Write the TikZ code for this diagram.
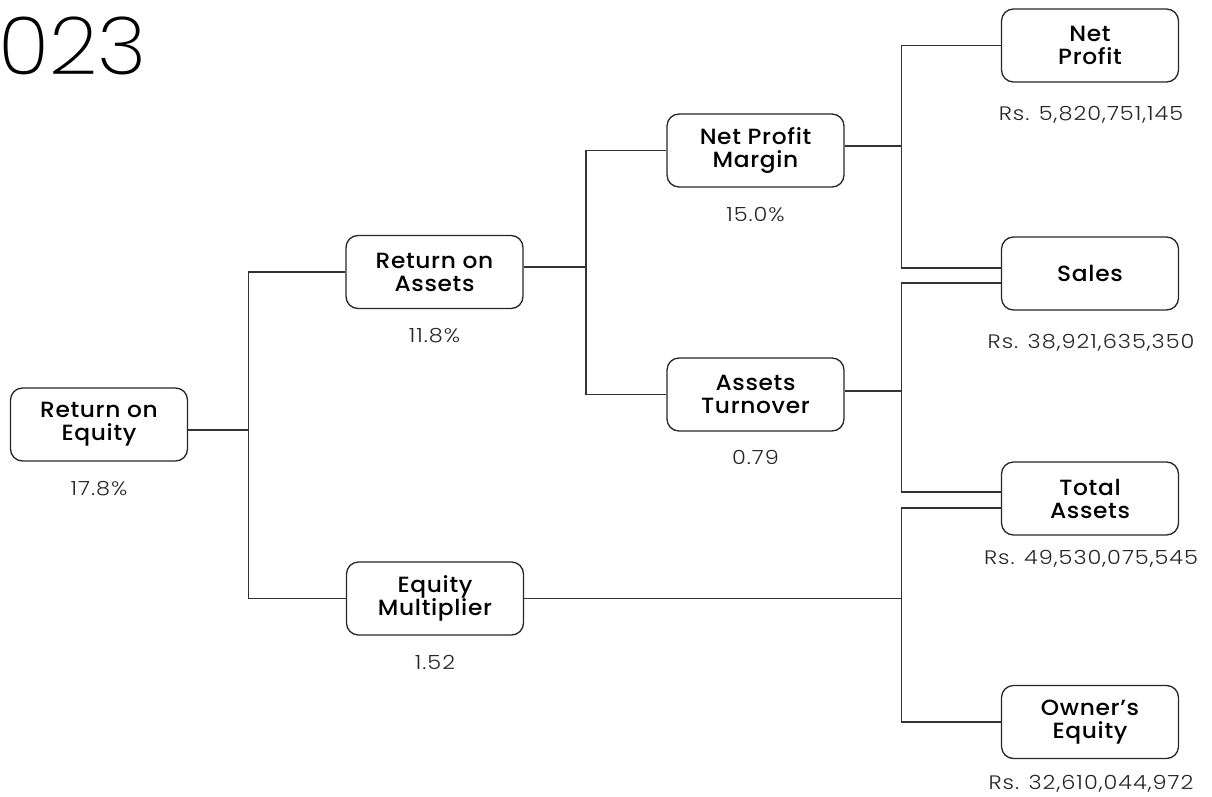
\documentclass[tikz,border=0pt]{standalone}
\usepackage{fontspec}
\setmainfont{Poppins}
\newfontfamily\boxfont[FakeStretch=1.06,LetterSpace=3]{Poppins Medium}
\newfontfamily\valfont[FakeStretch=1.15,LetterSpace=5]{Poppins Light}
\newfontfamily\yearfont[FakeStretch=1.06]{Poppins ExtraLight}
\begin{document}
\begin{tikzpicture}[x=1pt,y=-1pt,
  fbox/.style={draw=black!85, line width=1.3pt, rounded corners=12pt,
    minimum width=177pt, minimum height=73pt, inner sep=0pt, align=center,
    font=\boxfont\fontsize{22}{23}\selectfont, text=black},
  val/.style={anchor=base, inner sep=0pt, font=\valfont\fontsize{19.5}{20}\selectfont, text=black!85},
  conn/.style={draw=black!80, line width=1.3pt}]
\useasboundingbox (0,0) rectangle (1212,797);
\node[anchor=base west, inner sep=0pt, font=\yearfont\fontsize{80}{80}\selectfont] (year) at (-2,75) {023};
% boxes
\node[fbox] (roe) at (99,424.5) {Return on\\Equity};
\node[fbox] (roa) at (434.5,272) {Return on\\Assets};
\node[fbox] (em) at (435,598.5) {Equity\\Multiplier};
\node[fbox] (npm) at (755.5,150.5) {Net Profit\\Margin};
\node[fbox] (at) at (755.5,394.5) {Assets\\Turnover};
\node[fbox] (np) at (1090,45.5) {Net\\Profit};
\node[fbox] (sales) at (1090,273.5) {Sales};
\node[fbox] (ta) at (1090,498.5) {Total\\Assets};
\node[fbox] (oe) at (1090,722) {Owner’s\\Equity};
% values
\node[val] (roev) at (99,495) {17.8\%};
\node[val] (roav) at (434.5,342) {11.8\%};
\node[val] (emv) at (435,669) {1.52};
\node[val] (npmv) at (755.5,221) {15.0\%};
\node[val] (atv) at (755.5,464) {0.79};
\node[val] (npv) at (1091,121) {Rs. 5,820,751,145};
\node[val] (salesv) at (1091,348) {Rs. 38,921,635,350};
\node[val] (tav) at (1091,564) {Rs. 49,530,075,545};
\node[val] (oev) at (1091,789) {Rs. 32,610,044,972};
% junctions
\coordinate (j1) at (248.5,430);
\coordinate (j2) at (586,267);
\coordinate (j3) at (901.5,146);
\coordinate (j4) at (901.5,391);
\coordinate (j5) at (901.5,598.5);
% connectors
\draw[conn] ([yshift=-5.5pt]roe.east) -- (j1);
\draw[conn] (roa.west) -| (j1) |- (em.west);
\draw[conn] ([yshift=5pt]roa.east) -- (j2);
\draw[conn] (npm.west) -| (j2) |- (at.west);
\draw[conn] ([yshift=4.5pt]npm.east) -- (j3);
\draw[conn] (np.west) -| (j3) |- ([yshift=5.5pt]sales.west);
\draw[conn] ([yshift=3.5pt]at.east) -- (j4);
\draw[conn] ([yshift=-9.5pt]sales.west) -| (j4) |- ([yshift=6.5pt]ta.west);
\draw[conn] (em.east) -- (j5);
\draw[conn] ([yshift=-9.5pt]ta.west) -| (j5) |- (oe.west);
\end{tikzpicture}
\end{document}
